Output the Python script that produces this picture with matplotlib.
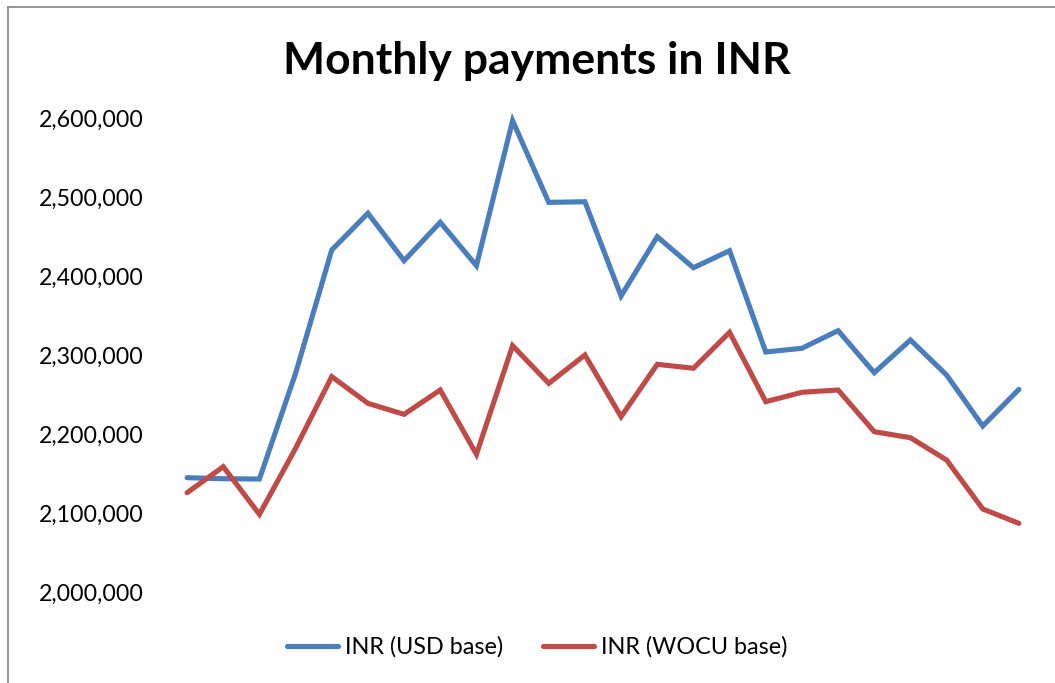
import matplotlib
matplotlib.use("Agg")
import matplotlib.pyplot as plt
from matplotlib.lines import Line2D

months = list(range(24))
usd_base = [2144700, 2143400, 2143000, 2276800, 2432900, 2479400, 2419400, 2468000,
            2413100, 2596600, 2493200, 2494000, 2374700, 2449800, 2410500, 2432000,
            2303800, 2308500, 2330800, 2277600, 2319000, 2274700, 2210100, 2256500]
wocu_base = [2125700, 2158600, 2098300, 2181900, 2272600, 2238800, 2224900, 2255700,
             2174300, 2311800, 2264100, 2300000, 2221900, 2288200, 2283200, 2328700,
             2240900, 2252800, 2255700, 2202900, 2195300, 2167100, 2105100, 2086900]
yticks = [2000000, 2100000, 2200000, 2300000, 2400000, 2500000, 2600000]
series_names = ["INR (USD base)", "INR (WOCU base)"]
title = "Monthly payments in INR"

plt.rcParams['font.family'] = ['Lato', 'DejaVu Sans']

W, H = 1055, 683
fig = plt.figure(figsize=(W / 100, H / 100), dpi=100)
ax = fig.add_axes([169 / W, (H - 592) / H, 868 / W, (592 - 118) / H])

ax.plot(months, usd_base, color='#4A7EBB', lw=3.7, solid_joinstyle='miter',
        solid_capstyle='round', label=series_names[0], clip_on=False)
ax.plot(months, wocu_base, color='#BE4B48', lw=3.7, solid_joinstyle='miter',
        solid_capstyle='round', label=series_names[1], clip_on=False)

ax.set_xlim(-0.5, 23.5)
ax.set_ylim(yticks[0], yticks[-1])
ax.set_yticks(yticks)
ax.set_yticklabels([f"{v:,}" for v in yticks])
ax.set_xticks([])
ax.tick_params(axis='y', length=0, pad=18, labelsize=16.7)
for s in ax.spines.values():
    s.set_visible(False)

fig.text(537 / W, 1 - 61 / H, title, ha='center', va='center',
         fontsize=32, fontweight='bold')

fig.legend(loc='center', bbox_to_anchor=(537 / W, 1 - 647 / H), ncol=2,
           frameon=False, fontsize=16.8, handlelength=2.2, handletextpad=0.3,
           columnspacing=1.7)

# chart border (left and top visible)
fig.add_artist(Line2D([7.5 / W, 7.5 / W], [0, 1 - 6.5 / H], transform=fig.transFigure,
                      color='#8c8c8c', lw=1.3))
fig.add_artist(Line2D([7.5 / W, 1], [1 - 6.5 / H, 1 - 6.5 / H], transform=fig.transFigure,
                      color='#8c8c8c', lw=1.3))

fig.savefig("out.png", dpi=100)
